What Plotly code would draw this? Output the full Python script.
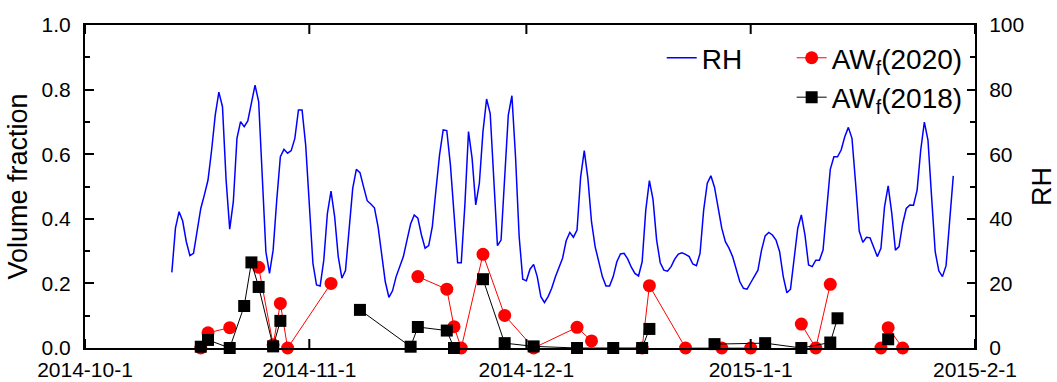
import pandas as pd
import plotly.graph_objects as go

# Relative humidity, 12-hourly from 2014-10-13 00:00 (%)
rh_start = "2014-10-13 00:00"
rh_values = [
    23.4, 37.1, 42.2, 39.3, 32.9, 28.6, 29.3, 36.5, 43.2, 47.4,
    52.0, 61.3, 72.1, 79.2, 74.7, 52.0, 36.8, 45.3, 64.9, 70.1,
    68.5, 70.3, 75.8, 81.4, 76.3, 53.0, 29.8, 23.1, 30.3, 45.8,
    59.2, 61.5, 60.3, 61.1, 64.9, 73.7, 73.7, 62.8, 45.8, 26.2,
    19.5, 19.2, 27.2, 41.7, 48.6, 40.7, 28.3, 21.6, 24.0, 37.0,
    49.4, 55.3, 54.3, 49.9, 45.6, 44.6, 43.4, 37.6, 29.3, 20.5,
    15.7, 17.7, 22.1, 25.4, 28.3, 33.4, 38.4, 41.2, 40.2, 35.0,
    30.9, 31.7, 37.6, 48.9, 59.8, 67.5, 67.3, 56.7, 41.7, 26.4,
    26.4, 44.3, 67.0, 58.7, 44.3, 51.0, 67.0, 77.1, 72.6, 52.0,
    31.7, 33.4, 52.0, 72.1, 78.1, 59.2, 34.5, 21.3, 20.8, 24.4,
    25.9, 22.1, 15.9, 14.1, 15.9, 18.5, 22.0, 25.0, 27.8, 33.2,
    35.8, 34.3, 36.5, 53.0, 61.1, 52.5, 39.1, 31.4, 26.7, 22.1,
    19.2, 19.2, 22.1, 26.7, 29.1, 29.3, 27.6, 25.0, 23.1, 22.3,
    26.7, 42.7, 51.8, 46.0, 33.4, 26.4, 24.1, 23.8, 25.2, 27.5,
    29.1, 29.5, 29.0, 28.3, 26.0, 25.5, 29.3, 42.7, 51.0, 53.3,
    49.8, 43.8, 37.1, 32.9, 30.9, 28.3, 24.7, 20.5, 18.5, 18.2,
    20.2, 22.0, 24.1, 30.3, 34.7, 35.8, 35.0, 33.4, 29.8, 22.1,
    17.1, 18.2, 27.2, 37.0, 41.2, 35.0, 25.7, 25.2, 27.2, 27.2,
    30.3, 43.8, 55.3, 59.2, 59.2, 61.3, 65.4, 68.3, 64.9, 51.0,
    36.2, 32.7, 34.3, 34.1, 31.4, 28.3, 30.9, 43.8, 50.2, 41.7,
    30.3, 31.4, 38.4, 43.2, 44.3, 44.2, 48.9, 61.3, 69.9, 64.4,
    46.8, 29.8, 23.9, 22.1, 25.5, 39.6, 53.3,
]

# Aerosol water volume fraction, 2020 parameterisation (None = no sample)
aw2020_dates = [
    "2014-10-17", "2014-10-18", "2014-10-21", "2014-10-23", "2014-10-25",
    "2014-10-27", "2014-10-28", "2014-10-29", "2014-11-04", "2014-11-08",
    "2014-11-16", "2014-11-20", "2014-11-21", "2014-11-22", "2014-11-25",
    "2014-11-28", "2014-12-02", "2014-12-08", "2014-12-10", "2014-12-13",
    "2014-12-17", "2014-12-18", "2014-12-23", "2014-12-28", "2015-01-01",
    "2015-01-03", "2015-01-08", "2015-01-10", "2015-01-12", "2015-01-13",
    "2015-01-19", "2015-01-20", "2015-01-22",
]
aw2020 = [
    0.0, 0.047, 0.063, None, 0.25,
    0.01, 0.138, 0.0, 0.2, None,
    0.221, 0.182, 0.066, 0.0, 0.29,
    0.101, 0.0, 0.064, 0.022, None,
    0.0, 0.193, 0.0, 0.0, 0.0,
    None, 0.074, 0.0, 0.197, None,
    0.0, 0.063, 0.0,
]

# Aerosol water volume fraction, 2018 parameterisation (None = no sample)
aw2018_dates = [
    "2014-10-17", "2014-10-18", "2014-10-21", "2014-10-23", "2014-10-24",
    "2014-10-25", "2014-10-27", "2014-10-28", "2014-11-04", "2014-11-08",
    "2014-11-15", "2014-11-16", "2014-11-20", "2014-11-21", "2014-11-22",
    "2014-11-25", "2014-11-28", "2014-12-02", "2014-12-08", "2014-12-13",
    "2014-12-17", "2014-12-18", "2014-12-23", "2014-12-27", "2015-01-03",
    "2015-01-08", "2015-01-12", "2015-01-13", "2015-01-19", "2015-01-20",
]
aw2018 = [
    0.004, 0.025, 0.0, 0.13, 0.265,
    0.189, 0.005, 0.084, None, 0.118,
    0.004, 0.065, 0.054, 0.0, None,
    0.213, 0.015, 0.005, 0.0, 0.0,
    0.0, 0.059, None, 0.012, 0.015,
    0.0, 0.017, 0.092, None, 0.027,
]

tick_dates = ["2014-10-01", "2014-11-01", "2014-12-01", "2015-01-01", "2015-02-01"]
tick_labels = ["2014-10-1", "2014-11-1", "2014-12-1", "2015-1-1", "2015-2-1"]
vf_ticks = [0.0, 0.2, 0.4, 0.6, 0.8, 1.0]
rh_ticks = [0, 20, 40, 60, 80, 100]
x_range = ["2014-10-01", "2015-02-01"]
rh_range = [0, 100]

rh_times = pd.date_range(rh_start, periods=len(rh_values), freq="12h")

FONT = "Liberation Sans, Arial, sans-serif"
PLOT_H = 382 - 25 - 34                         # plot-area height in px
X_TICK_LEN = 9 * (rh_range[1] - rh_range[0]) / PLOT_H   # 9 px in RH units

fig = go.Figure()
# RH: bottom date axis + right axis
fig.add_trace(go.Scatter(
    x=rh_times, y=rh_values, mode="lines", name="RH",
    line=dict(color="#0000FF", width=1.5),
    xaxis="x", yaxis="y", legend="legend",
))
# volume fractions: top date axis (same range) + left axis
fig.add_trace(go.Scatter(
    x=pd.to_datetime(aw2020_dates), y=aw2020, mode="lines+markers",
    name="AW<sub>f</sub>(2020)",
    line=dict(color="#FF0000", width=1),
    marker=dict(symbol="circle", size=13, color="#FF0000"),
    xaxis="x2", yaxis="y2", legend="legend2", cliponaxis=False, connectgaps=False,
))
fig.add_trace(go.Scatter(
    x=pd.to_datetime(aw2018_dates), y=aw2018, mode="lines+markers",
    name="AW<sub>f</sub>(2018)",
    line=dict(color="black", width=1),
    marker=dict(symbol="square", size=12, color="black"),
    xaxis="x2", yaxis="y2", legend="legend2", cliponaxis=False, connectgaps=False,
))

# inward month ticks on the bottom and top frame edges
for d in tick_dates:
    fig.add_shape(type="line", xref="x", yref="y", layer="above",
                  x0=d, x1=d, y0=rh_range[0], y1=rh_range[0] + X_TICK_LEN,
                  line=dict(color="black", width=2))
    fig.add_shape(type="line", xref="x", yref="y", layer="above",
                  x0=d, x1=d, y0=rh_range[1], y1=rh_range[1] - X_TICK_LEN,
                  line=dict(color="black", width=2))

axis_common = dict(
    showline=True, linewidth=2, linecolor="black",
    tickcolor="black", tickwidth=1.5,
    showgrid=False, zeroline=False, automargin=False,
    tickfont=dict(family=FONT, size=21),
)

fig.update_layout(
    width=1057, height=382,
    margin=dict(l=85, r=82, t=25, b=34),
    plot_bgcolor="white", paper_bgcolor="white",
    font=dict(family=FONT, size=21, color="black"),
    xaxis=dict(
        type="date", range=x_range, anchor="y", side="bottom",
        tickvals=tick_dates, ticktext=tick_labels, ticks="",
        ticklabelstandoff=2,
        **axis_common,
    ),
    xaxis2=dict(
        type="date", range=x_range, anchor="y2", side="top", overlaying="x",
        tickvals=tick_dates, ticks="", showticklabels=False,
        **axis_common,
    ),
    yaxis=dict(
        range=rh_range, side="right", anchor="x", tickvals=rh_ticks,
        ticks="inside", ticklen=8,
        minor=dict(dtick=10, ticks="inside", ticklen=5, tickcolor="black", tickwidth=1.5),
        title=dict(text="RH", font=dict(size=27), standoff=12),
        ticklabelstandoff=8,
        **axis_common,
    ),
    yaxis2=dict(
        range=[0, 1], side="left", anchor="x2", overlaying="y", tickvals=vf_ticks,
        ticktext=[f"{v:.1f}" for v in vf_ticks], ticks="inside", ticklen=9,
        minor=dict(dtick=0.1, ticks="inside", ticklen=5, tickcolor="black", tickwidth=1.5),
        title=dict(text="Volume fraction", font=dict(size=27), standoff=6),
        ticklabelstandoff=8,
        **axis_common,
    ),
    legend=dict(
        x=0.648, y=0.975, xanchor="left", yanchor="top",
        bgcolor="rgba(0,0,0,0)", borderwidth=0,
        font=dict(family=FONT, size=28),
    ),
    legend2=dict(
        x=0.794, y=0.975, xanchor="left", yanchor="top",
        bgcolor="rgba(0,0,0,0)", borderwidth=0,
        font=dict(family=FONT, size=28),
    ),
    showlegend=True,
)

fig.write_html("out.html")
